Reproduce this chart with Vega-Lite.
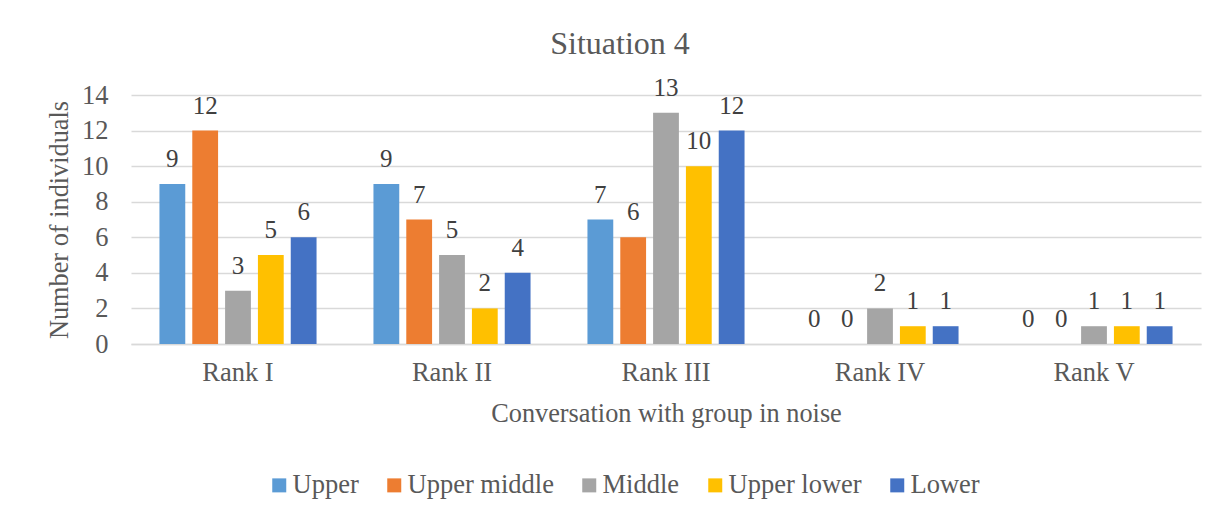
{
  "$schema": "https://vega.github.io/schema/vega-lite/v6.json",
  "width": 1070,
  "height": 249,
  "autosize": {"type": "none"},
  "padding": {"left": 131, "top": 95, "right": 31, "bottom": 173},
  "background": "white",
  "title": {
    "text": "Situation 4",
    "font": "Liberation Serif",
    "fontSize": 32,
    "fontWeight": "normal",
    "color": "#595959",
    "anchor": "middle",
    "dx": -46,
    "offset": 15
  },
  "data": {
    "values": [
      {"rank": "Rank I", "group": "Upper", "n": 9},
      {"rank": "Rank I", "group": "Upper middle", "n": 12},
      {"rank": "Rank I", "group": "Middle", "n": 3},
      {"rank": "Rank I", "group": "Upper lower", "n": 5},
      {"rank": "Rank I", "group": "Lower", "n": 6},
      {"rank": "Rank II", "group": "Upper", "n": 9},
      {"rank": "Rank II", "group": "Upper middle", "n": 7},
      {"rank": "Rank II", "group": "Middle", "n": 5},
      {"rank": "Rank II", "group": "Upper lower", "n": 2},
      {"rank": "Rank II", "group": "Lower", "n": 4},
      {"rank": "Rank III", "group": "Upper", "n": 7},
      {"rank": "Rank III", "group": "Upper middle", "n": 6},
      {"rank": "Rank III", "group": "Middle", "n": 13},
      {"rank": "Rank III", "group": "Upper lower", "n": 10},
      {"rank": "Rank III", "group": "Lower", "n": 12},
      {"rank": "Rank IV", "group": "Upper", "n": 0},
      {"rank": "Rank IV", "group": "Upper middle", "n": 0},
      {"rank": "Rank IV", "group": "Middle", "n": 2},
      {"rank": "Rank IV", "group": "Upper lower", "n": 1},
      {"rank": "Rank IV", "group": "Lower", "n": 1},
      {"rank": "Rank V", "group": "Upper", "n": 0},
      {"rank": "Rank V", "group": "Upper middle", "n": 0},
      {"rank": "Rank V", "group": "Middle", "n": 1},
      {"rank": "Rank V", "group": "Upper lower", "n": 1},
      {"rank": "Rank V", "group": "Lower", "n": 1}
    ]
  },
  "encoding": {
    "x": {
      "field": "rank",
      "type": "nominal",
      "sort": ["Rank I", "Rank II", "Rank III", "Rank IV", "Rank V"],
      "scale": {"paddingInner": 0, "paddingOuter": 0},
      "axis": {
        "title": "Conversation with group in noise",
        "labelAngle": 0,
        "labelPadding": 15,
        "titlePadding": 15,
        "ticks": false,
        "domainColor": "#D9D9D9",
        "domainWidth": 1.5
      }
    },
    "xOffset": {
      "field": "group",
      "type": "nominal",
      "sort": ["Upper", "Upper middle", "Middle", "Upper lower", "Lower"],
      "scale": {"paddingInner": 0.214, "paddingOuter": 0.867}
    },
    "y": {
      "field": "n",
      "type": "quantitative",
      "scale": {"domain": [0, 14]},
      "axis": {
        "title": "Number of individuals",
        "values": [0, 2, 4, 6, 8, 10, 12, 14],
        "domain": false,
        "ticks": false,
        "labelPadding": 23,
        "titlePadding": 8,
        "gridColor": "#D9D9D9",
        "gridWidth": 1.5
      }
    }
  },
  "layer": [
    {
      "mark": {"type": "bar"},
      "encoding": {
        "color": {
          "field": "group",
          "type": "nominal",
          "sort": ["Upper", "Upper middle", "Middle", "Upper lower", "Lower"],
          "scale": {
            "domain": ["Upper", "Upper middle", "Middle", "Upper lower", "Lower"],
            "range": ["#5B9BD5", "#ED7D31", "#A5A5A5", "#FFC000", "#4472C4"]
          },
          "legend": {
            "title": null,
            "orient": "none",
            "direction": "horizontal",
            "legendX": 135,
            "legendY": 377,
            "symbolType": "square",
            "symbolSize": 196,
            "symbolStrokeWidth": 0,
            "labelOffset": 0,
            "columnPadding": 22
          }
        }
      }
    },
    {
      "mark": {"type": "text", "baseline": "alphabetic", "dy": -17, "font": "Liberation Serif", "fontSize": 25, "color": "#404040"},
      "encoding": {"text": {"field": "n", "type": "quantitative"}}
    }
  ],
  "config": {
    "view": {"stroke": null},
    "text": {"font": "Liberation Serif"},
    "axis": {
      "labelFont": "Liberation Serif",
      "labelFontSize": 26.5,
      "labelColor": "#595959",
      "titleFont": "Liberation Serif",
      "titleFontSize": 26.3,
      "titleFontWeight": "normal",
      "titleColor": "#595959"
    },
    "axisX": {"grid": false},
    "legend": {
      "labelFont": "Liberation Serif",
      "labelFontSize": 26.5,
      "labelColor": "#595959",
      "labelLimit": 400
    }
  }
}
